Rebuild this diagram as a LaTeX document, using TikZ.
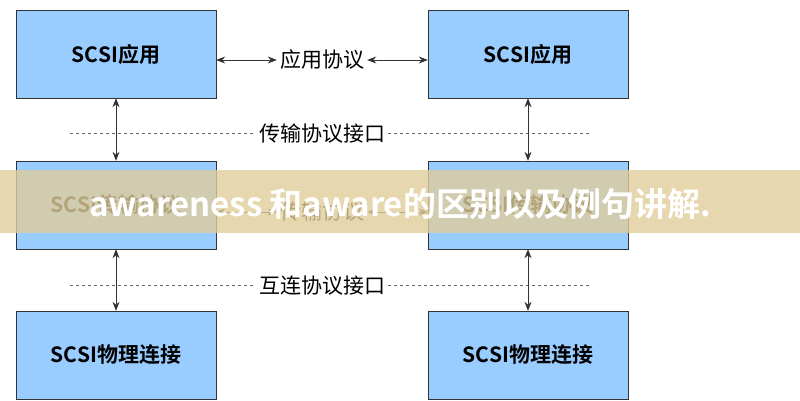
\documentclass[tikz,border=0pt]{standalone}
\usepackage{fontspec}
\setmainfont{Noto Sans CJK SC}
\newfontfamily\cjkb{Noto Sans CJK SC Bold}
\usetikzlibrary{arrows.meta}
\definecolor{boxblue}{HTML}{99CCFF}
\begin{document}
\begin{tikzpicture}[x=1pt,y=-1pt,
  box/.style={draw=black!80,fill=boxblue,minimum width=200pt,minimum height=88pt,inner sep=0pt,font=\cjkb\fontsize{21}{25}\selectfont},
  lab/.style={fill=white,inner sep=3pt,font=\fontsize{21}{25}\selectfont},
  arr/.style={{Stealth[length=9pt,width=7pt]}-{Stealth[length=9pt,width=7pt]},thick,black!80},
  dashln/.style={dashed,black!60,thick}]
\useasboundingbox (0,0) rectangle (800,400);
\node[box] (a1) at (116,54) {SCSI应用};
\node[box] (b1) at (528,54) {SCSI应用};
\node[box] (a2) at (116,205) {SCSI传输协议};
\node[box] (b2) at (528,205) {SCSI传输协议};
\node[box] (a3) at (116,355) {SCSI物理连接};
\node[box] (b3) at (528,355) {SCSI物理连接};
\coordinate (d1l) at (70,133); \coordinate (d1r) at (590,133);
\coordinate (d2l) at (70,285); \coordinate (d2r) at (590,285);
\draw[dashln] (d1l) -- (d1r);
\draw[dashln] (d2l) -- (d2r);
\node[lab] (l1) at (322,60) {应用协议};
\node[lab] (l2) at (322,134) {传输协议接口};
\node[lab] (l3) at (322,212) {传输协议};
\node[lab] (l4) at (322,286) {互连协议接口};
\draw[arr] (a1.east) ++(0,6) coordinate (p1) -- (l1.west);
\draw[arr] (b1.west) ++(0,6) coordinate (p2) -- (l1.east);
\draw[arr] (a2.east) ++(0,7) -- (l3.west);
\draw[arr] (b2.west) ++(0,7) -- (l3.east);
\draw[arr] (a1.south) -- (a2.north);
\draw[arr] (b1.south) -- (b2.north);
\draw[arr] (a2.south) -- (a3.north);
\draw[arr] (b2.south) -- (b3.north);
\fill[fill={rgb,255:red,224;green,205;blue,155},opacity=0.8] (0,170) rectangle (800,233);
\node[font=\cjkb\fontsize{33}{38}\selectfont,text=white] (t) at (400,204) {awareness 和aware的区别以及例句讲解.};
\end{tikzpicture}
\end{document}
